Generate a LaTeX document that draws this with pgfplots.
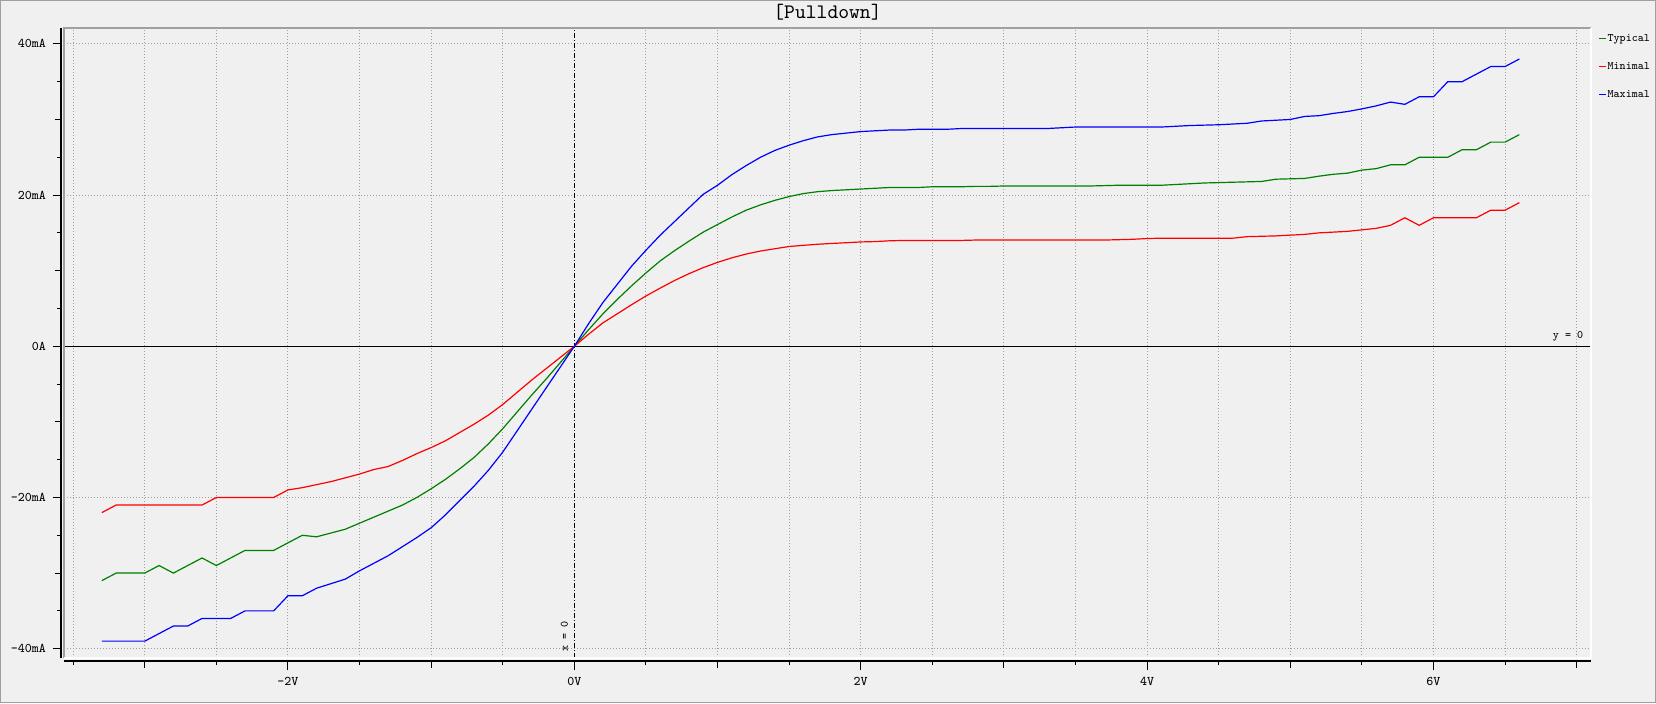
\documentclass[border=0pt]{standalone}
\usepackage{pgfplots}
\usepackage{pgfplotstable}
\pgfplotsset{compat=1.18}
\definecolor{bgc}{RGB}{240,240,240}
\definecolor{bord}{RGB}{160,160,160}
\definecolor{gridgray}{RGB}{160,160,160}
\definecolor{tgreen}{RGB}{0,128,0}
\definecolor{tred}{RGB}{255,0,0}
\definecolor{tblue}{RGB}{0,0,255}
\pgfplotstableread{
x typ mi ma
-3.3 -31 -22 -39
-3.2 -30 -21 -39
-3.1 -30 -21 -39
-3.0 -30 -21 -39
-2.9 -29 -21 -38
-2.8 -30 -21 -37
-2.7 -29 -21 -37
-2.6 -28 -21 -36
-2.5 -29 -20 -36
-2.4 -28 -20 -36
-2.3 -27 -20 -35
-2.2 -27 -20 -35
-2.1 -27 -20 -35
-2.0 -26 -19.0 -33
-1.9 -25 -18.7 -33
-1.8 -25.2 -18.3 -32
-1.7 -24.7 -17.9 -31.4
-1.6 -24.2 -17.4 -30.8
-1.5 -23.4 -16.9 -29.7
-1.4 -22.6 -16.3 -28.7
-1.3 -21.8 -15.9 -27.7
-1.2 -21.0 -15.1 -26.5
-1.1 -20.0 -14.2 -25.3
-1.0 -18.85 -13.4 -24.0
-0.9 -17.6 -12.5 -22.3
-0.8 -16.2 -11.4 -20.4
-0.7 -14.7 -10.3 -18.5
-0.6 -12.9 -9.1 -16.4
-0.5 -10.9 -7.7 -14.0
-0.4 -8.7 -6.1 -11.2
-0.3 -6.5 -4.5 -8.4
-0.2 -4.4 -3.0 -5.6
-0.1 -2.2 -1.5 -2.8
0.0 0 0 0
0.1 2.2 1.6 3.0
0.2 4.3 3.1 5.8
0.3 6.2 4.3 8.2
0.4 8.0 5.5 10.6
0.5 9.7 6.65 12.7
0.6 11.3 7.7 14.7
0.7 12.65 8.7 16.5
0.8 13.9 9.6 18.3
0.9 15.1 10.4 20.1
1.0 16.1 11.1 21.3
1.1 17.1 11.7 22.7
1.2 18.0 12.2 23.9
1.3 18.7 12.6 25.0
1.4 19.3 12.9 25.9
1.5 19.8 13.2 26.6
1.6 20.2 13.35 27.2
1.7 20.45 13.5 27.7
1.8 20.6 13.6 28.0
1.9 20.7 13.7 28.2
2.0 20.8 13.8 28.4
2.1 20.9 13.85 28.5
2.2 21.0 13.95 28.6
2.3 21.0 14.0 28.6
2.4 21.0 14.0 28.7
2.5 21.1 14.0 28.7
2.6 21.1 14.0 28.7
2.7 21.1 14.0 28.8
2.8 21.15 14.05 28.8
2.9 21.15 14.05 28.8
3.0 21.2 14.05 28.8
3.1 21.2 14.05 28.8
3.2 21.2 14.05 28.8
3.3 21.2 14.05 28.8
3.4 21.2 14.05 28.9
3.5 21.2 14.05 29.0
3.6 21.2 14.05 29.0
3.7 21.25 14.05 29.0
3.8 21.3 14.1 29.0
3.9 21.3 14.15 29.0
4.0 21.3 14.25 29.0
4.1 21.3 14.3 29.0
4.2 21.4 14.3 29.1
4.3 21.5 14.3 29.2
4.4 21.6 14.3 29.25
4.5 21.65 14.3 29.3
4.6 21.7 14.3 29.4
4.7 21.75 14.5 29.5
4.8 21.8 14.55 29.8
4.9 22.1 14.6 29.9
5.0 22.15 14.7 30.0
5.1 22.2 14.8 30.4
5.2 22.5 15.0 30.5
5.3 22.75 15.1 30.8
5.4 22.9 15.2 31.05
5.5 23.3 15.4 31.4
5.6 23.5 15.6 31.8
5.7 24.0 16.0 32.3
5.8 24.0 17.0 32.0
5.9 25.0 16.0 33.0
6.0 25.0 17.0 33.0
6.1 25.0 17.0 35.0
6.2 26.0 17.0 35.0
6.3 26.0 17.0 36.0
6.4 27.0 18.0 37.0
6.5 27.0 18.0 37.0
6.6 28.0 19.0 38.0
}\datatable
\begin{document}
\begin{tikzpicture}
\useasboundingbox (0,0) rectangle (828pt,351.5pt);
\fill[bgc] (0,0) rectangle (828pt,351.5pt);
\draw[bord, line width=0.5pt] (0.25pt,0.25pt) rectangle (827.75pt,351.25pt);
% title
\node[font=\ttfamily\fontsize{10.3}{12}\selectfont] at (413.75pt,345.3pt) {[Pulldown]};
% main canvas
\begin{axis}[
  at={(32pt,22.5pt)}, anchor=south west,
  scale only axis, width=763.5pt, height=315pt,
  xmin=-3.564, xmax=7.1, ymin=-41.23, ymax=42.1,
  axis line style={draw=none},
  xtick={-3.5,-3,-2.5,-2,-1.5,-1,-0.5,0.5,1,1.5,2,2.5,3,3.5,4,4.5,5,5.5,6,6.5,7},
  ytick={-40,-20,20,40},
  xticklabels={}, yticklabels={},
  major tick length=0pt,
  grid=major,
  grid style={gridgray, line width=0.5pt, dash pattern=on 0.5pt off 1pt},
  legend style={at={(1.0046,0.9937)}, anchor=north west, draw=none, fill=none,
    inner sep=0pt, row sep=8pt,
    font=\ttfamily\fontsize{5.7}{6.5}\selectfont,
    nodes={inner sep=0.5pt, text height=4pt, text depth=1pt}},
  legend cell align=left,
  legend image code/.code={\draw[#1] (0pt,0pt) -- (3.5pt,0pt);},
]
\draw[black, line width=0.5pt] (axis cs:-3.564,0) -- (axis cs:7.1,0);
\draw[black, line width=0.5pt, dash pattern=on 2.5pt off 1pt on 0.5pt off 1pt] (axis cs:0,-41.23) -- (axis cs:0,42.1);
\addplot[tgreen, line width=0.6pt] table[x=x, y=typ] {\datatable};
\addlegendentry{Typical}
\addplot[tred, line width=0.6pt] table[x=x, y=mi] {\datatable};
\addlegendentry{Minimal}
\addplot[tblue, line width=0.6pt] table[x=x, y=ma] {\datatable};
\addlegendentry{Maximal}
\node[font=\ttfamily\fontsize{5.7}{6.5}\selectfont] at (axis cs:6.94,1.3) {y = 0};
\node[rotate=90, font=\ttfamily\fontsize{5.7}{6.5}\selectfont] at (axis cs:-0.07,-38.4) {x = 0};
\end{axis}
% canvas 3D border
\draw[bord, line width=1pt] (32pt,22.5pt) -- (32pt,337.5pt) -- (795.5pt,337.5pt);
\draw[white, line width=1pt] (32pt,22.5pt) -- (795.5pt,22.5pt) -- (795.5pt,337.5pt);
% y axis
\begin{axis}[
  at={(30.5pt,22.5pt)}, anchor=south west,
  scale only axis, width=10pt, height=315pt,
  xmin=0, xmax=1, ymin=-41.23, ymax=42.1,
  axis x line=none, axis y line*=left,
  axis line style={black, line width=0.6pt},
  tick align=outside,
  tick style={black, line width=0.5pt},
  major tick length=4pt, minor tick length=2pt,
  ytick={-40,-20,0,20,40},
  yticklabels={-40mA,-20mA,0A,20mA,40mA},
  minor ytick={-35,-25,-15,-5,5,15,25,35},
  extra y ticks={-30,-10,10,30},
  extra y tick labels={},
  extra y tick style={major tick length=3pt},
  yticklabel style={font=\ttfamily\fontsize{6.6}{8}\selectfont},
]
\end{axis}
% x axis
\begin{axis}[
  at={(32pt,21pt)}, anchor=south west,
  scale only axis, width=763.5pt, height=10pt,
  xmin=-3.564, xmax=7.1, ymin=0, ymax=1,
  axis y line=none, axis x line*=bottom,
  axis line style={black, line width=0.6pt},
  tick align=outside,
  tick style={black, line width=0.5pt},
  major tick length=4.5pt, minor tick length=2pt,
  xtick={-2,0,2,4,6},
  xticklabels={-2V,0V,2V,4V,6V},
  minor xtick={-3.5,-2.5,-1.5,-0.5,0.5,1.5,2.5,3.5,4.5,5.5,6.5},
  extra x ticks={-3,-1,1,3,5,7},
  extra x tick labels={},
  extra x tick style={major tick length=3.5pt},
  xticklabel style={font=\ttfamily\fontsize{6.6}{8}\selectfont},
]
\end{axis}
\end{tikzpicture}
\end{document}
